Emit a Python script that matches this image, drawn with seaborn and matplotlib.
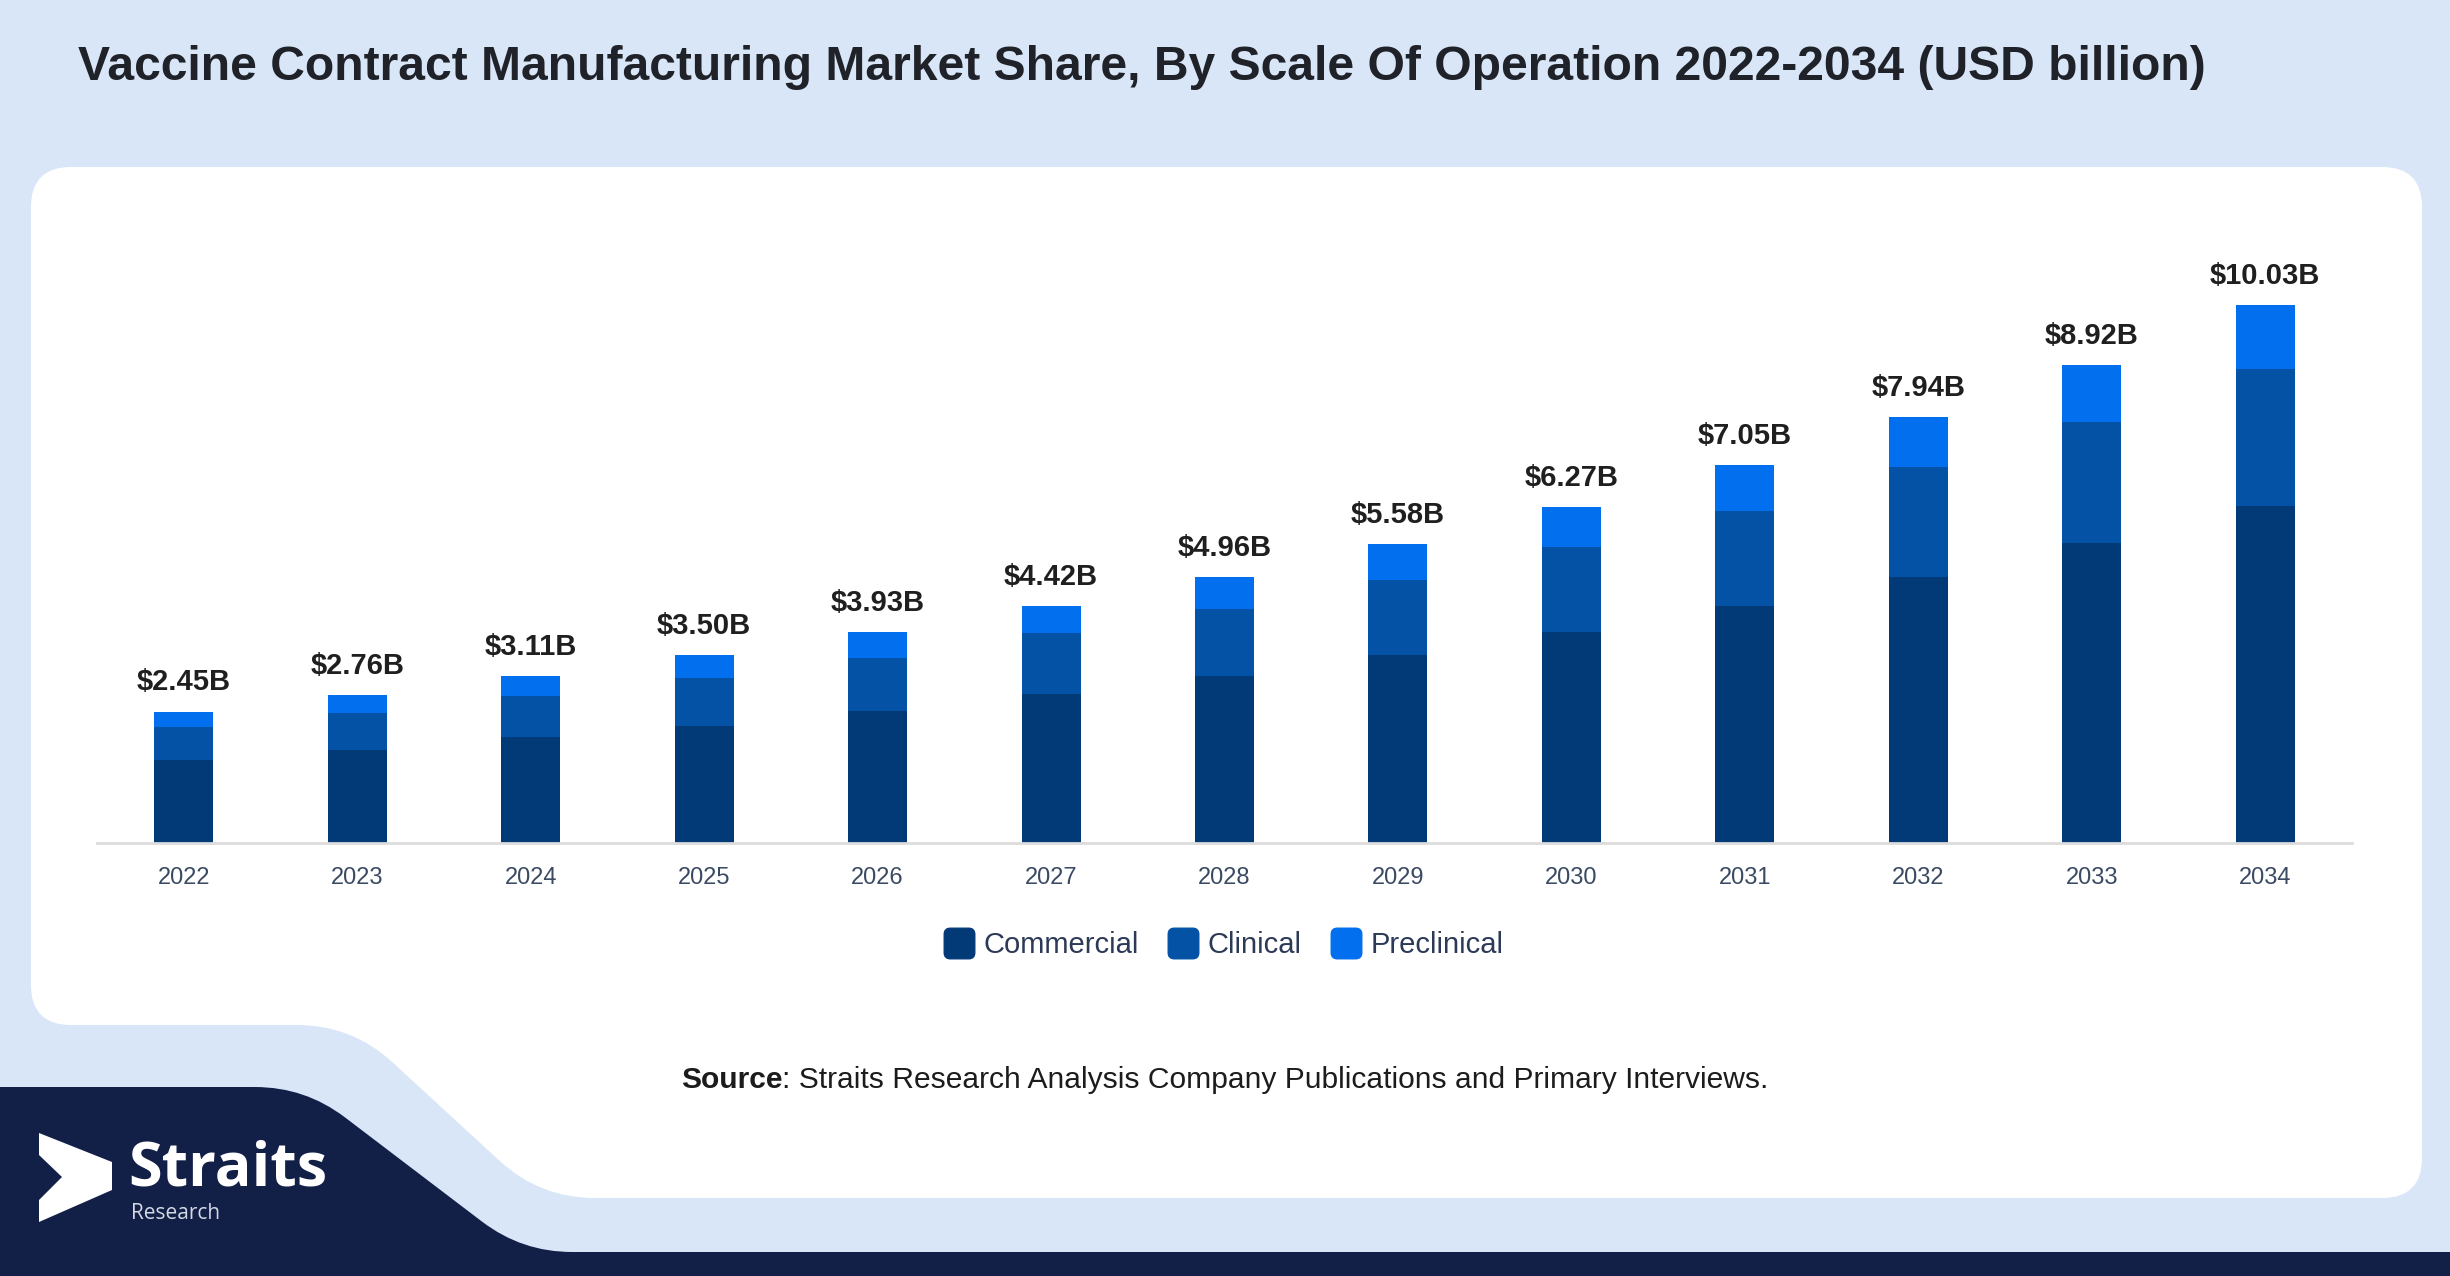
import numpy as np
import pandas as pd
import matplotlib
matplotlib.use("Agg")
import matplotlib.pyplot as plt
import seaborn as sns
from matplotlib.path import Path
from matplotlib.patches import PathPatch, Polygon
from matplotlib.lines import Line2D

# data (USD billion)
years = ["2022", "2023", "2024", "2025", "2026", "2027", "2028",
         "2029", "2030", "2031", "2032", "2033", "2034"]
commercial = [1.54, 1.74, 1.97, 2.19, 2.47, 2.78, 3.11, 3.51, 3.93, 4.42, 4.97, 5.60, 6.28]
clinical = [0.62, 0.69, 0.77, 0.88, 0.99, 1.13, 1.26, 1.40, 1.60, 1.78, 2.04, 2.26, 2.57]
preclinical = [0.29, 0.33, 0.37, 0.43, 0.47, 0.51, 0.59, 0.67, 0.74, 0.85, 0.93, 1.06, 1.18]
segments = ["Commercial", "Clinical", "Preclinical"]

title = "Vaccine Contract Manufacturing Market Share, By Scale Of Operation 2022-2034 (USD billion)"
source = ": Straits Research Analysis Company Publications and Primary Interviews."

colors = {"Commercial": "#023a78", "Clinical": "#0352a6", "Preclinical": "#026fee"}
W, H = 2450, 1276

sns.set_style("white")
plt.rcParams["font.family"] = ["Liberation Sans", "DejaVu Sans"]


def rounded_path(pts, radii):
    # polygon with quadratic-bezier rounded corners
    verts, codes = [], []
    n = len(pts)
    for i in range(n):
        p0, p1, p2 = np.array(pts[i - 1], float), np.array(pts[i], float), np.array(pts[(i + 1) % n], float)
        r = radii[i]
        d1 = (p0 - p1) / np.linalg.norm(p0 - p1)
        d2 = (p2 - p1) / np.linalg.norm(p2 - p1)
        a, b = p1 + d1 * r, p1 + d2 * r
        verts.append(a)
        codes.append(Path.MOVETO if i == 0 else Path.LINETO)
        verts += [p1, b]
        codes += [Path.CURVE3, Path.CURVE3]
    verts.append(verts[0])
    codes.append(Path.CLOSEPOLY)
    return Path(verts, codes)


fig = plt.figure(figsize=(W / 100, H / 100), dpi=100)
fig.patch.set_facecolor("#d9e6f8")

# background shapes in pixel coords
bg = fig.add_axes([0, 0, 1, 1])
bg.set_xlim(0, W)
bg.set_ylim(H, 0)
bg.axis("off")

card = rounded_path([(31, 167), (2422, 167), (2422, 1198), (540, 1198), (352, 1025), (31, 1025)],
                    [40, 40, 40, 55, 55, 40])
bg.add_patch(PathPatch(card, facecolor="white", edgecolor="none"))

navy = rounded_path([(0, 1087), (305, 1087), (522, 1252), (W, 1252), (W, H), (0, H)],
                    [0, 50, 50, 0, 0, 0])
bg.add_patch(PathPatch(navy, facecolor="#121f47", edgecolor="none"))

# logo
bg.add_patch(Polygon([(39, 1133), (112, 1162), (112, 1190), (39, 1222), (39, 1200), (62, 1177), (39, 1155)],
                     closed=True, facecolor="white", edgecolor="none"))
bg.text(128, 1186, "Straits", color="white", fontsize=44, fontweight="bold",
        family=["Open Sans", "DejaVu Sans"], va="baseline", ha="left")
bg.text(131, 1219, "Research", color="#d5d9e3", fontsize=15,
        family=["Open Sans", "DejaVu Sans"], va="baseline", ha="left")

# title
bg.text(78, 68, title, fontsize=34.6, fontweight="bold", color="#1f2228", va="center", ha="left")

# source line
t1 = bg.text(681, 1080, "Source", fontsize=21.6, fontweight="bold", color="#1c1c1c", va="center", ha="left")
bg.annotate(source, xy=(1, 0), xycoords=t1, fontsize=21.6, color="#1c1c1c", va="bottom", ha="left")

# chart
df = pd.DataFrame({"year": years, "Commercial": commercial, "Clinical": clinical, "Preclinical": preclinical})
df["lower2"] = df["Commercial"] + df["Clinical"]
df["total"] = df["lower2"] + df["Preclinical"]

base_y = 843
px_per_b = 53.6
ymax = 11
ax = fig.add_axes([97 / W, (H - base_y) / H, (2352 - 97) / W, ymax * px_per_b / H])
ax.patch.set_alpha(0)

for col, seg in [("total", "Preclinical"), ("lower2", "Clinical"), ("Commercial", "Commercial")]:
    sns.barplot(data=df, x="year", y=col, color=colors[seg], width=0.34,
                saturation=1, errorbar=None, linewidth=0, edgecolor=colors[seg], ax=ax)

for i, t in enumerate(df["total"]):
    ax.annotate(f"${t:.2f}B", (i, t), xytext=(0, 11), textcoords="offset points",
                ha="center", va="bottom", fontsize=21, fontweight="bold", color="#1f1f1f")

ax.set_xlim(-0.5, len(years) - 0.5)
ax.set_ylim(0, ymax)
ax.set_xlabel("")
ax.set_ylabel("")
ax.set_yticks([])
ax.tick_params(axis="x", length=0, pad=17.5, labelsize=17, labelcolor="#3b4a63")
for s in ["left", "right", "top"]:
    ax.spines[s].set_visible(False)
ax.spines["bottom"].set_color("#dcdcdc")
ax.spines["bottom"].set_linewidth(2)

# legend with rounded square markers
sq = rounded_path([(-1, -1), (1, -1), (1, 1), (-1, 1)], [0.4] * 4)
handles = [Line2D([], [], marker=sq, linestyle="", markersize=22,
                  markerfacecolor=colors[s], markeredgecolor=colors[s]) for s in segments]
fig.legend(handles, segments, loc="center", bbox_to_anchor=(1224 / W, 1 - 945 / H), ncol=3,
           frameon=False, handletextpad=0.35, columnspacing=1.0, fontsize=21,
           labelcolor="#2d3a57", handlelength=1.0)

fig.savefig("out.png", dpi=100, facecolor=fig.get_facecolor())
